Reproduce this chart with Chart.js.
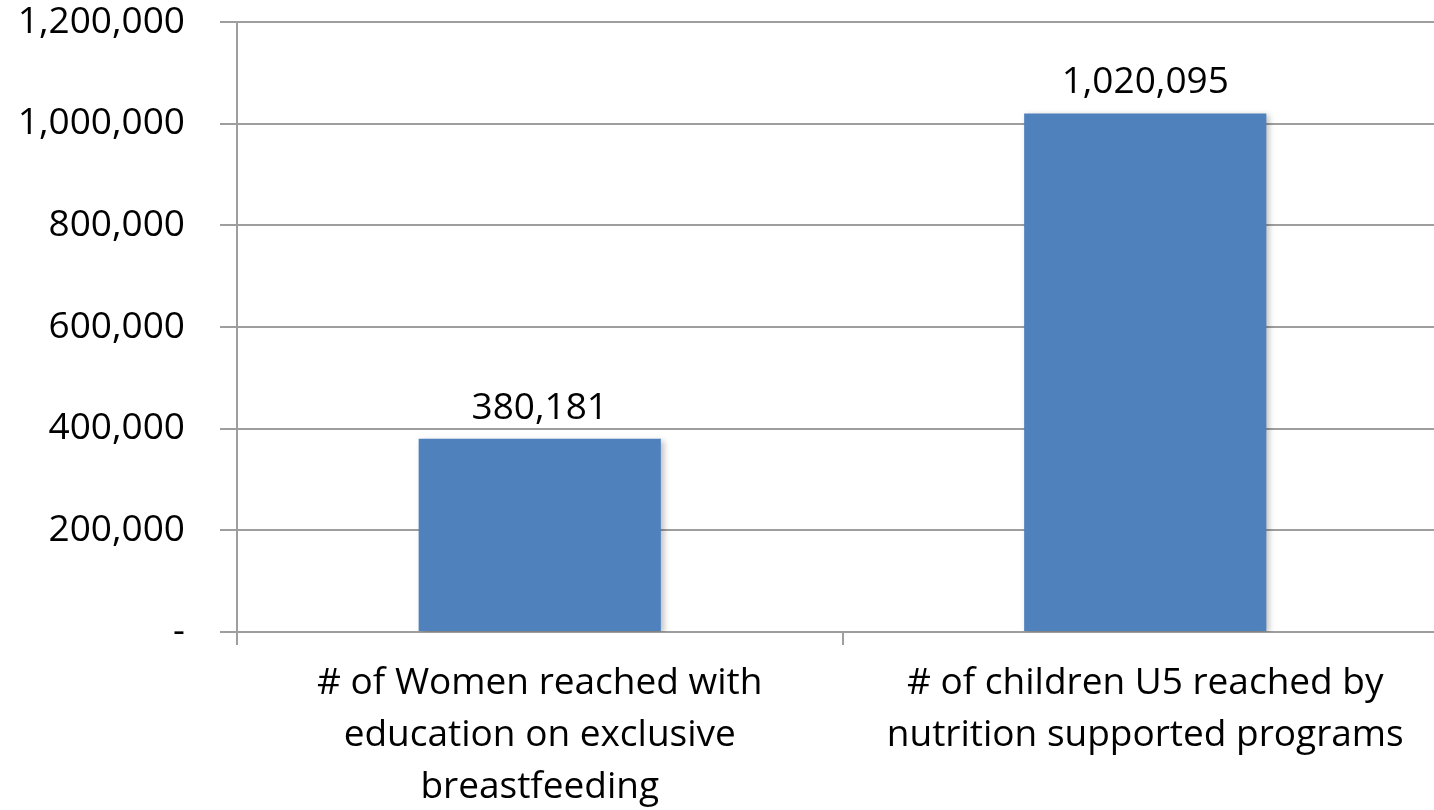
<!DOCTYPE html>
<html>
<head>
<meta charset="utf-8">
<script src="https://cdn.jsdelivr.net/npm/chart.js@4"></script>
<style>
  html, body { margin: 0; padding: 0; background: #fff; overflow: hidden; }
  /* the plot runs a little past the right edge of the window */
  #wrap { width: 1448px; height: 810px; }
</style>
</head>
<body>
<div id="wrap"><canvas id="reachChart"></canvas></div>
<script>
// categories (one array entry per line of the axis label)
var categories = [
    ['# of Women reached with', 'education on exclusive', 'breastfeeding'],
    ['# of children U5 reached by', 'nutrition supported programs']
];
var reached = [380181, 1020095];
var yTicks = [0, 200000, 400000, 600000, 800000, 1000000, 1200000];

var FONT = "'Open Sans', 'Noto Sans', sans-serif";
var GRID = '#9e9e9e';

function fmt(v) {
    return v === 0 ? '-' : v.toLocaleString('en-US');
}

// value printed above each bar
var valueLabels = {
    id: 'valueLabels',
    afterDatasetsDraw: function(chart) {
        var ctx = chart.ctx;
        var meta = chart.getDatasetMeta(0);
        ctx.save();
        ctx.font = '37px ' + FONT;
        ctx.fillStyle = '#000';
        ctx.textAlign = 'center';
        ctx.textBaseline = 'bottom';
        meta.data.forEach(function(bar, i) {
            ctx.fillText(fmt(reached[i]), bar.x, bar.y - 12);
        });
        ctx.restore();
    }
};

// soft shadow behind the bars
var barShadow = {
    id: 'barShadow',
    beforeDatasetDraw: function(chart) {
        var ctx = chart.ctx;
        ctx.save();
        ctx.shadowColor = 'rgba(0,0,0,0.25)';
        ctx.shadowBlur = 6;
        ctx.shadowOffsetX = 3;
        ctx.shadowOffsetY = 2;
    },
    afterDatasetDraw: function(chart) {
        chart.ctx.restore();
    }
};

var ctx = document.getElementById('reachChart').getContext('2d');
var reachChart = new Chart(ctx, {
    type: 'bar',
    data: {
        labels: categories,
        datasets: [{
            data: reached,
            backgroundColor: '#4f81bd',
            borderWidth: 0,
            categoryPercentage: 1,
            barPercentage: 0.4
        }]
    },
    plugins: [barShadow, valueLabels],
    options: {
        responsive: true,
        maintainAspectRatio: false,
        animation: false,
        layout: { padding: 0 },
        plugins: {
            legend: { display: false },
            tooltip: { enabled: false }
        },
        scales: {
            x: {
                grid: {
                    offset: true,
                    drawOnChartArea: false,
                    drawTicks: true,
                    tickLength: 13,
                    color: GRID,
                    lineWidth: 2
                },
                border: { color: GRID, width: 2 },
                ticks: {
                    color: '#000',
                    font: { family: FONT, size: 37, lineHeight: 1.41 },
                    padding: 12,
                    maxRotation: 0
                },
                afterFit: function(scale) {
                    scale.height = 178;
                    scale.paddingLeft = 0;
                    scale.paddingRight = 0;
                }
            },
            y: {
                min: 0,
                max: 1200000,
                afterBuildTicks: function(scale) {
                    scale.ticks = yTicks.map(function(v) { return { value: v }; });
                },
                grid: {
                    color: GRID,
                    lineWidth: 2,
                    tickLength: 17
                },
                border: { color: GRID, width: 2 },
                ticks: {
                    color: '#000',
                    font: { family: FONT, size: 37 },
                    padding: 35,
                    callback: function(v) { return fmt(v); }
                },
                afterFit: function(scale) {
                    scale.width = 237;
                    scale.paddingTop = 22;
                    scale.paddingBottom = 0;
                }
            }
        }
    }
});
</script>
</body>
</html>
